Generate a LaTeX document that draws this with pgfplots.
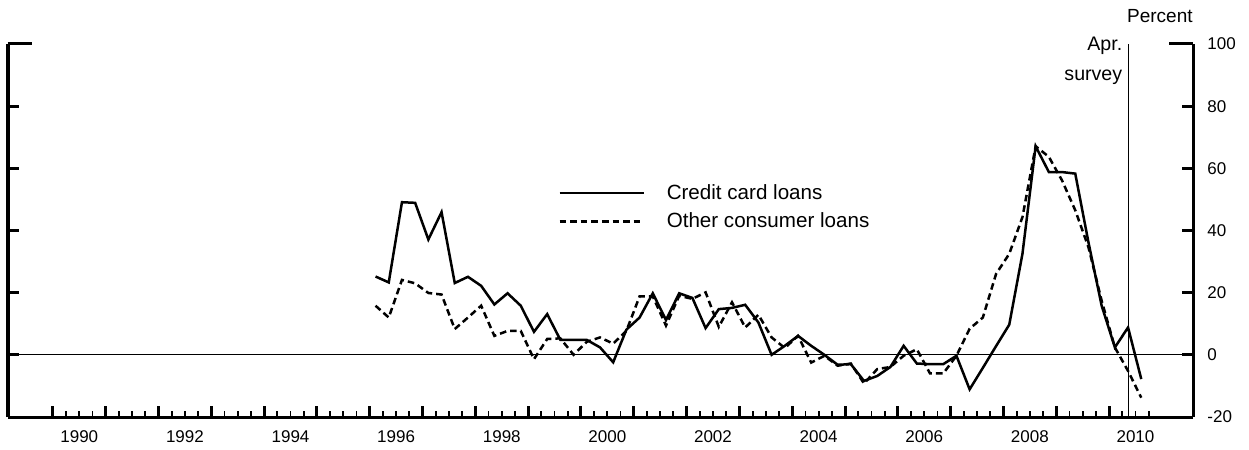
\documentclass[border=0pt]{standalone}
\usepackage{fontspec}
\setmainfont{Liberation Sans}
\usepackage{pgfplots}
\usepackage{pgfplotstable}
\pgfplotsset{compat=1.18}
\pgfplotstableread{
x cc oc
1996.11 25.2 15.8
1996.36 23.3 12.0
1996.61 49.1 24.1
1996.86 48.9 23.0
1997.11 37.1 19.9
1997.36 45.9 19.4
1997.61 23.1 8.3
1997.86 25.1 12.0
1998.11 22.2 15.8
1998.36 16.2 6.1
1998.61 19.8 7.7
1998.86 15.8 7.7
1999.11 7.4 -1.4
1999.36 13.1 5.1
1999.61 4.8 5.3
1999.86 4.8 0.0
2000.11 4.8 4.2
2000.36 2.4 5.6
2000.61 -2.4 3.6
2000.86 8.1 7.7
2001.11 12.0 18.8
2001.36 19.8 18.8
2001.61 11.2 9.4
2001.86 19.8 19.0
2002.11 18.3 18.0
2002.36 8.6 20.1
2002.61 14.7 9.0
2002.86 15.1 16.9
2003.11 16.1 8.8
2003.36 10.4 12.9
2003.61 0.0 5.6
2003.86 2.9 2.2
2004.11 6.1 6.1
2004.36 2.9 -2.5
2004.61 0.0 -0.3
2004.86 -3.2 -3.5
2005.11 -3.0 -2.8
2005.36 -8.4 -9.2
2005.61 -6.8 -4.6
2005.86 -3.9 -3.9
2006.11 2.9 -0.3
2006.36 -2.8 1.8
2006.61 -3.0 -6.0
2006.86 -3.0 -6.0
2007.11 -0.3 -0.3
2007.36 -11.1 8.4
2007.61 -4.2 12.0
2007.86 2.8 26.0
2008.11 9.7 32.5
2008.36 32.5 44.3
2008.61 67.1 67.1
2008.86 58.8 63.7
2009.11 58.8 56.1
2009.36 58.3 46.5
2009.61 36.2 34.6
2009.86 15.8 17.4
2010.11 2.4 2.4
2010.36 8.8 -5.2
2010.61 -7.8 -13.8
}\datatable
% x axis in years since 1989
\begin{document}
\fontsize{8.5}{10}\selectfont
\begin{tikzpicture}
\begin{axis}[
  width=592.5pt, height=186.5pt, scale only axis,
  xmin=0.15, xmax=22.59,
  ymin=-20, ymax=100,
  axis x line*=bottom, axis y line*=box,
  axis line style={line width=1.5pt},
  tick align=inside,
  xtick={1,2,...,21},
  xticklabels={},
  minor xtick={1,1.25,...,21.75},
  extra x ticks={1.5,3.5,5.5,7.5,9.5,11.5,13.5,15.5,17.5,19.5,21.5},
  extra x tick labels={1990,1992,1994,1996,1998,2000,2002,2004,2006,2008,2010},
  extra x tick style={major tick length=0pt, xticklabel style={anchor=base, yshift=-12.5pt, inner sep=0pt}},
  major tick length=5.5pt, minor tick length=3pt,
  every tick/.style={black, line width=1.5pt},
  minor tick style={line width=0.9pt},
  ytick={-20,0,...,100},
  yticklabel pos=right,
  yticklabel style={anchor=west, xshift=7pt, inner sep=0pt},
  /pgf/number format/assume math mode=true,
  clip=false,
  legend style={draw=none, fill=none, at={(rel axis cs:0.464,0.562)}, anchor=west, inner sep=0pt, row sep=1.5pt,
    nodes={inner sep=2pt}, font=\fontsize{10.3}{12}\selectfont},
  legend cell align=left,
  legend image code/.code={\draw[#1] (0pt,0pt) -- (42pt,0pt);},
]
\addplot[black, line width=0.5pt, forget plot] coordinates {(0.15,0) (22.59,0)};
\addplot[black, line width=0.5pt, forget plot] coordinates {(21.37,-20) (21.37,100)};
\addplot[black, line width=1.25pt] table[x expr=\thisrow{x}-1989, y=cc] {\datatable};
\addlegendentry{\hspace{9pt}Credit card loans}
\addplot[black, line width=1.25pt, dash pattern=on 3.3pt off 2pt] table[x expr=\thisrow{x}-1989, y=oc] {\datatable};
\addlegendentry{\hspace{9pt}Other consumer loans}
\draw[line width=1.5pt] (rel axis cs:0,1) -- ([xshift=12pt]rel axis cs:0,1);
\draw[line width=1.5pt] (rel axis cs:1,1) -- ([xshift=-12pt]rel axis cs:1,1);
\node[anchor=base east, inner sep=0pt, font=\fontsize{9.5}{11}\selectfont] at ([yshift=10.5pt]rel axis cs:1,1) {Percent};
\node[anchor=base east, inner sep=0pt, font=\fontsize{9.8}{11}\selectfont] at ([xshift=-3pt, yshift=-3.5pt]axis cs:21.37,100) {Apr.};
\node[anchor=base east, inner sep=0pt, font=\fontsize{9.8}{11}\selectfont] at ([xshift=-3pt, yshift=-18.5pt]axis cs:21.37,100) {survey};
\end{axis}
\path ([shift={(-4pt,-16pt)}]current axis.south west) rectangle ([shift={(28pt,22pt)}]current axis.north east);
\end{tikzpicture}
\end{document}
